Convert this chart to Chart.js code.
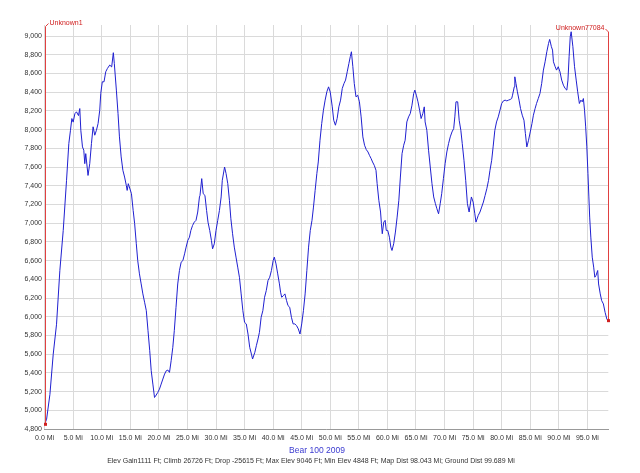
<!DOCTYPE html>
<html>
<head>
<meta charset="utf-8">
<script src="https://cdn.jsdelivr.net/npm/chart.js@4.4.1/dist/chart.umd.min.js"></script>
<style>
  html, body { margin: 0; padding: 0; background: #fff; }
  #wrap { width: 640px; height: 473px; }
</style>
</head>
<body>
<div id="wrap"><canvas id="profile" width="640" height="473"></canvas></div>
<script>
// distance along the course (miles)
const miles = [
  0, 0.35, 0.93, 1.51, 2.09, 2.67, 3.26, 3.84, 4.24, 4.53,
  4.77, 5.0, 5.3, 5.58, 5.93, 6.16, 6.34, 6.63, 6.86, 7.03,
  7.2, 7.6, 7.9, 8.2, 8.49, 8.78, 9.07, 9.36, 9.65, 9.83,
  10.1, 10.4, 10.7, 11.0, 11.4, 11.74, 12.03, 12.2, 12.56, 12.85,
  13.1, 13.4, 13.7, 14.0, 14.3, 14.45, 14.65, 15.2, 15.5, 15.76,
  16.05, 16.3, 16.6, 16.9, 17.2, 17.5, 17.8, 18.1, 18.4, 18.66,
  18.95, 19.24, 19.4, 19.8, 20.1, 20.4, 20.7, 21.0, 21.3, 21.57,
  21.86, 22.15, 22.44, 22.7, 23.0, 23.3, 23.6, 23.9, 24.2, 24.5,
  24.77, 25.06, 25.35, 25.6, 25.9, 26.2, 26.5, 26.8, 27.1,
  27.2, 27.5, 27.76, 28.06, 28.35, 28.6, 28.9, 29.2, 29.4, 29.7,
  30.0, 30.3, 30.6, 30.9, 31.1, 31.35, 31.5, 31.76, 32.06, 32.35,
  32.6, 32.9, 33.2, 33.5, 33.8, 34.1, 34.4, 34.7, 35.0, 35.3,
  35.6, 35.9, 36.2, 36.4, 36.8, 37.06, 37.35, 37.6, 37.9, 38.2,
  38.5, 38.8, 39.1, 39.4, 39.7, 40.0, 40.2, 40.5, 40.8, 41.1,
  41.3, 41.5, 41.8, 42.06, 42.35, 42.6, 42.9, 43.2, 43.5, 43.8,
  44.1, 44.4, 44.7, 45.0, 45.3, 45.6, 45.9, 46.2, 46.5, 46.8,
  47.06, 47.35, 47.65, 47.9, 48.2, 48.5, 48.8, 49.1, 49.4, 49.7,
  50.0,
  50.35, 50.6, 50.9, 51.2, 51.5, 51.8, 52.1, 52.4, 52.67, 52.97,
  53.26, 53.5, 53.7, 53.95, 54.2, 54.5, 54.8, 55.1, 55.4, 55.7,
  56.0, 56.3, 56.6, 56.86, 57.15, 57.4, 57.7, 58.0, 58.2, 58.5,
  58.8, 58.95, 59.1, 59.36, 59.6, 59.8, 60.06, 60.35, 60.6, 60.8,
  61.1, 61.4, 61.7, 62.0, 62.27, 62.56, 62.85, 63.1, 63.4, 63.7,
  64.0, 64.3, 64.6, 64.8, 65.06, 65.35, 65.64, 65.9, 66.2, 66.45,
  66.6, 66.9, 67.2, 67.5, 67.8, 68.1, 68.4, 68.66, 68.95, 69.24,
  69.5, 69.8, 70.1, 70.4, 70.7, 71.0, 71.3, 71.6, 71.8, 72.0,
  72.3, 72.56, 72.85, 73.1, 73.4, 73.7, 74.0, 74.3,
  74.7, 75.0, 75.3, 75.5, 75.9, 76.2, 76.5, 76.8, 77.1, 77.4,
  77.7, 77.95, 78.25, 78.5, 78.8, 79.1, 79.4, 79.7, 80.0, 80.3,
  80.6, 80.9, 81.2, 81.5, 81.75, 81.9, 82.2, 82.3, 82.5, 82.75,
  83.04, 83.3, 83.6, 83.9, 84.15, 84.4, 84.7, 85.0, 85.3, 85.55,
  85.85, 86.1, 86.4, 86.7, 87.0, 87.3, 87.6, 87.9, 88.2, 88.4,
  88.7, 88.9, 89.06, 89.36, 89.6, 89.9, 90.2, 90.5, 90.8, 91.1,
  91.4, 91.6, 91.8, 92.0, 92.16, 92.46, 92.75, 93.04, 93.3, 93.6,
  93.86, 94.1, 94.3, 94.5, 94.7, 94.9, 95.1, 95.26, 95.4, 95.6,
  95.85, 96.1, 96.3, 96.5, 96.8, 96.96, 97.25, 97.5, 97.8, 98.1,
  98.4, 98.6
];

// elevation (ft) at each distance above
const elevation = [
  4850, 4905, 5170, 5600, 5920, 6494, 6922, 7458, 7850, 7993,
  8118, 8080, 8170, 8190, 8150, 8225, 7993, 7815, 7780, 7636,
  7743, 7510, 7636, 7850, 8030, 7940, 7993, 8065, 8207, 8386,
  8511, 8511, 8618, 8654, 8690, 8670, 8822, 8708, 8422, 8172,
  7922, 7708, 7565, 7493, 7404, 7350, 7422, 7315, 7136, 6994,
  6780, 6600, 6458, 6351, 6244, 6155, 6065, 5851, 5637, 5423,
  5280, 5137, 5150, 5190, 5226, 5280, 5334, 5387, 5423, 5430,
  5405, 5530, 5673, 5851, 6100, 6350, 6494, 6583, 6600, 6672,
  6744, 6815, 6850, 6922, 6976, 7011, 7030, 7119, 7280,
  7297, 7476, 7315, 7297, 7136, 7011, 6922, 6815, 6726, 6779,
  6922, 7030, 7136, 7280, 7458, 7547, 7600, 7530, 7422, 7244,
  7047, 6887, 6744, 6637, 6530, 6422, 6244, 6065, 5940, 5923,
  5815, 5673, 5600, 5548, 5620, 5690, 5762, 5833, 5994, 6065,
  6208, 6280, 6387, 6422, 6494, 6600, 6637, 6565, 6458, 6351,
  6262, 6208, 6226, 6244, 6172, 6119, 6101, 5994, 5923, 5923,
  5905, 5870, 5815, 5923, 6065, 6244, 6494, 6744, 6922, 7030,
  7172, 7350, 7530, 7654, 7886, 8065, 8207, 8315, 8404, 8457,
  8400,
  8243, 8100, 8047, 8118, 8243, 8315, 8440, 8493, 8529, 8618,
  8707, 8779, 8832, 8672, 8493, 8350, 8368, 8297, 8136, 7922,
  7833, 7786, 7761, 7725, 7690, 7654, 7618, 7565, 7422, 7244,
  7119, 6994, 6887, 7011, 7030, 6922, 6922, 6850, 6744, 6708,
  6780, 6905, 7065, 7244, 7493, 7743, 7833, 7886, 8082, 8136,
  8172, 8261, 8386, 8422, 8368, 8297, 8207, 8118, 8172, 8243,
  8082, 7993, 7780, 7600, 7422, 7280, 7208, 7154, 7100, 7208,
  7315, 7476, 7636, 7761, 7850, 7922, 7975, 8011, 8136, 8297,
  8297, 8100, 7993, 7850, 7672, 7458, 7208, 7119,
  7280, 7226, 7100, 7011, 7083, 7119, 7172, 7226, 7297, 7369,
  7458, 7565, 7672, 7815, 7993, 8082, 8136, 8207, 8279, 8307,
  8315, 8307, 8315, 8322, 8332, 8368, 8457, 8564, 8493, 8404,
  8315, 8225, 8154, 8100, 7958, 7815, 7886, 7975, 8065, 8154,
  8225, 8279, 8332, 8386, 8493, 8636, 8725, 8832, 8921, 8964,
  8886, 8850, 8725, 8672, 8636, 8672, 8618, 8529, 8475, 8440,
  8422, 8529, 8779, 8993, 9046, 8886, 8672, 8529, 8404, 8279,
  8315, 8297, 8332, 8207, 8029, 7815, 7529, 7280, 7065, 6851,
  6637, 6530, 6422, 6440, 6494, 6350, 6244, 6172, 6137, 6047,
  5976, 5958
];

const distTicks = [0, 5, 10, 15, 20, 25, 30, 35, 40, 45, 50, 55, 60, 65, 70, 75, 80, 85, 90, 95];
const elevTicks = [4800, 5000, 5200, 5400, 5600, 5800, 6000, 6200, 6400, 6600, 6800,
  7000, 7200, 7400, 7600, 7800, 8000, 8200, 8400, 8600, 8800, 9000];

const waypointNames = ["Unknown1", "Unknown77084"];
const waypointMiles = [0, 98.6];
const waypointElev = [4850, 5958];

const chartTitle = "Bear 100 2009";
const summary = "Elev Gain1111 Ft; Climb 26726 Ft; Drop -25615 Ft; Max Elev 9046 Ft; Min Elev 4848 Ft; Map Dist 98.043 Mi; Ground Dist 99.689 Mi";

const FONT = "'Liberation Sans', Arial, sans-serif";

// red waypoint flags + the text under the plot
const extras = {
  id: "extras",
  afterDatasetsDraw(chart) {
    const { ctx, chartArea, scales } = chart;
    ctx.save();
    ctx.strokeStyle = "#e04040";
    ctx.fillStyle = "#d02020";
    ctx.lineWidth = 1;
    ctx.font = "7px " + FONT;
    ctx.textBaseline = "middle";
    const tops = [chartArea.top + 1.5, chartArea.top + 7];
    waypointNames.forEach((name, i) => {
      const x = Math.round(scales.x.getPixelForValue(waypointMiles[i])) + 0.5;
      const y = scales.y.getPixelForValue(waypointElev[i]);
      const top = tops[i];
      const dir = i === 0 ? 1 : -1;
      ctx.beginPath();
      ctx.moveTo(x, y);
      ctx.lineTo(x, top);
      ctx.lineTo(x + dir * 3, top - 3);
      ctx.stroke();
      ctx.fillRect(x - 1.5, y - 1.5, 3, 3);
      ctx.textAlign = i === 0 ? "left" : "right";
      ctx.fillText(name, x + dir * 4, top - 3.5);
    });
    ctx.restore();
  },
  afterDraw(chart) {
    const { ctx } = chart;
    ctx.save();
    ctx.textAlign = "center";
    ctx.textBaseline = "middle";
    ctx.fillStyle = "#3a3ad0";
    ctx.font = "8.5px " + FONT;
    ctx.fillText(chartTitle, 317, 450.5);
    ctx.fillStyle = "#333";
    ctx.font = "7px " + FONT;
    ctx.fillText(summary, 311, 461.5);
    ctx.restore();
  }
};

new Chart(document.getElementById("profile"), {
  type: "line",
  data: {
    datasets: [{
      data: miles.map((m, i) => ({ x: m, y: elevation[i] })),
      borderColor: "#2020d0",
      borderWidth: 1,
      pointRadius: 0,
      tension: 0,
      fill: false
    }]
  },
  options: {
    responsive: false,
    animation: false,
    devicePixelRatio: 1,
    layout: { padding: { top: 25, right: 31.7, left: 0, bottom: 0 } },
    plugins: {
      legend: { display: false },
      tooltip: { enabled: false }
    },
    scales: {
      x: {
        type: "linear",
        min: 0,
        max: 98.66,
        afterBuildTicks: (s) => { s.ticks = distTicks.map(v => ({ value: v })); },
        afterFit: (s) => { s.height = 44; },
        ticks: {
          callback: (v) => v.toFixed(1) + " Mi",
          font: { family: FONT, size: 7 },
          color: "#333",
          padding: 4.5,
          maxRotation: 0,
          autoSkip: false
        },
        grid: { color: "#dadada", drawTicks: false },
        border: { color: "#999" }
      },
      y: {
        min: 4800,
        max: 9118,
        afterBuildTicks: (s) => { s.ticks = elevTicks.map(v => ({ value: v })); },
        afterFit: (s) => { s.width = 44.6; },
        ticks: {
          callback: (v) => v.toLocaleString("en-US"),
          font: { family: FONT, size: 7 },
          color: "#333",
          padding: 2.6
        },
        grid: { color: "#dadada", drawTicks: false },
        border: { display: false }
      }
    }
  },
  plugins: [extras]
});
</script>
</body>
</html>
